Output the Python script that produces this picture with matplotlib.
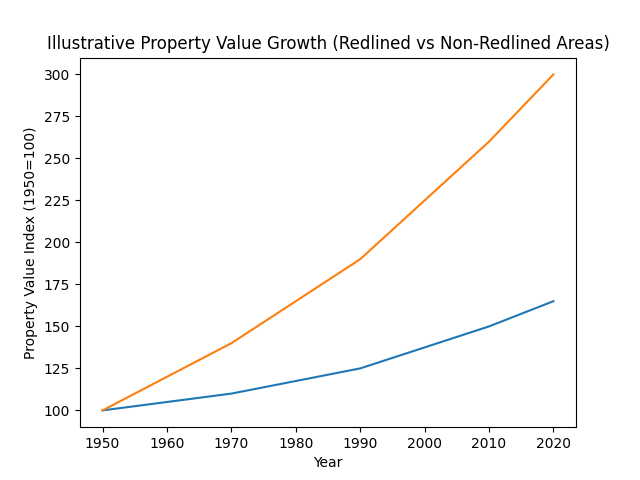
import matplotlib
matplotlib.use("Agg")
import matplotlib.pyplot as plt

years = [1950, 1970, 1990, 2010, 2020]
redlined = [100, 110, 125, 150, 165]
non_redlined = [100, 140, 190, 260, 300]

fig, ax = plt.subplots(figsize=(6.4, 4.8), dpi=100)
ax.plot(years, redlined, label="Redlined")
ax.plot(years, non_redlined, label="Non-Redlined")
ax.set_title("Illustrative Property Value Growth (Redlined vs Non-Redlined Areas)")
ax.set_xlabel("Year")
ax.set_ylabel("Property Value Index (1950=100)")
fig.savefig("out.png")
